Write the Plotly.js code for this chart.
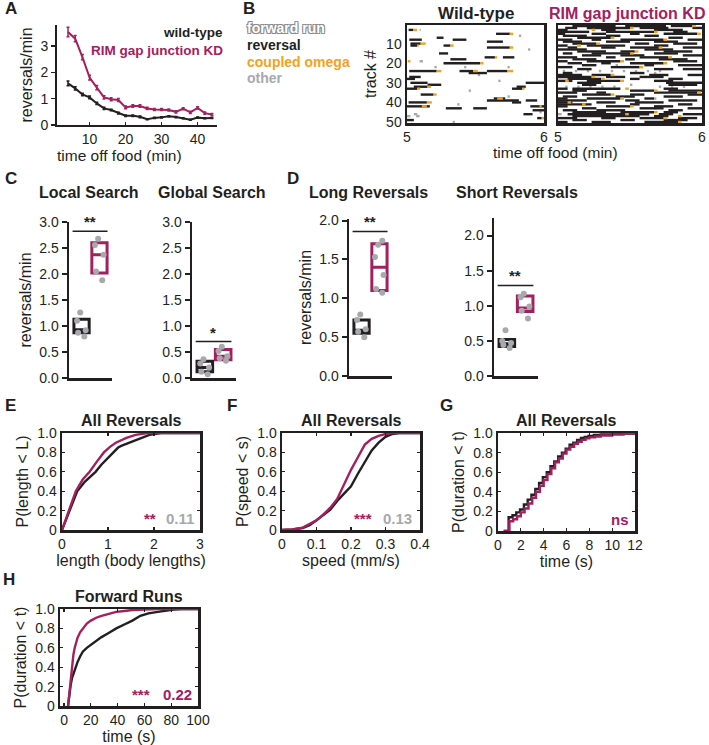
<!DOCTYPE html>
<html lang="en">
<head>
<meta charset="UTF-8">
<script src="https://cdn.plot.ly/plotly-3.0.1.min.js"></script>
<style>
    html, body, #plot {
        width: 709px;
        height: 745px;
        margin: 0;
        padding: 0;
        overflow: hidden;
        background: #fff;
    }
</style>
</head>
<body>
<div id="plot"></div>
<script>
// ---------- data ----------
// A: reversal rate vs time off food
const timeOffFood = [4, 6, 8, 10, 12, 14, 16, 18, 20, 22, 24, 26, 28, 30, 32, 34, 36, 38, 40, 42, 44];
const wtRate = [1.58, 1.39, 1.16, 1.05, 0.82, 0.63, 0.57, 0.45, 0.35, 0.35, 0.31, 0.22, 0.27, 0.29, 0.33, 0.3, 0.26, 0.2, 0.28, 0.26, 0.27];
const wtRateErr = [0.09, 0.06, 0.05, 0.05, 0.04, 0.04, 0.03, 0.03, 0.03, 0.03, 0.03, 0.02, 0.02, 0.02, 0.02, 0.02, 0.02, 0.02, 0.02, 0.02, 0.02];
const kdRate = [3.53, 3.28, 2.58, 1.8, 1.42, 1.05, 0.98, 0.95, 0.67, 0.72, 0.72, 0.63, 0.59, 0.59, 0.57, 0.5, 0.62, 0.48, 0.65, 0.45, 0.4];
const kdRateErr = [0.18, 0.12, 0.1, 0.09, 0.08, 0.06, 0.06, 0.06, 0.05, 0.05, 0.05, 0.04, 0.04, 0.04, 0.04, 0.04, 0.04, 0.04, 0.04, 0.04, 0.04];

// B: ethograms, seconds after 5 min; [track, start, end]
const wtReversal = [[3, 0.7, 2.8], [5, 39, 45], [7, 13, 16], [8, 1, 6.5], [8, 20, 26], [9, 35, 42], [10, 1.5, 6], [11, 1.5, 4.4],
    [11, 16, 19], [12, 35, 45], [15, 14, 18], [17, 34, 38.5], [17, 42, 47], [18, 19, 26], [20, 16, 32], [24, 1, 13], [24, 23, 29],
    [24, 35, 44], [25, 27, 35], [27, 1, 6], [28, 0, 3.5], [30, 1.5, 9], [30, 52, 60], [31, 9, 15], [32, 3, 9], [32, 48, 52],
    [33, 0, 4.4], [33, 46, 50.5], [36, 6, 11.6], [38, 38, 43], [39, 35, 49], [39, 52, 57], [40, 0.7, 8.7], [40, 46, 50],
    [42, 0, 10], [42, 54, 60], [43, 17, 24], [43, 29, 35], [44, 55, 60], [46, 51, 55], [48, 57, 59], [49, 0, 3]];
const wtOmega = [[3, 2.8, 4.4], [5, 45, 46.5], [10, 6, 8.2], [11, 4.4, 5.2], [11, 19, 20.4], [12, 45, 46.5], [17, 38.5, 39.5],
    [19, 0.3, 1.5], [20, 32, 33.5], [24, 13, 15], [24, 29, 31], [24, 44, 46.5], [32, 9, 10.5], [33, 4.4, 5.8], [33, 50.5, 51.5],
    [36, 11.6, 13], [38, 39.5, 42], [40, 8.7, 10.9], [42, 6.5, 8.7], [42, 58, 59], [48, 59, 60]];
const wtOther = [[3, 5.5, 6], [6, 49, 50], [13, 53, 54], [19, 5.5, 7], [22, 12, 13], [22, 25, 26], [22, 44, 45], [26, 31, 32],
    [29, 40, 41], [34, 27, 28], [37, 44, 45], [41, 22, 23], [45, 58, 59], [46, 3, 4.5], [47, 4, 5.5], [47, 0, 1.5], [50, 20, 21]];

const kdReversal = [
    [1, 6, 24], [1, 28, 45], [1, 47, 56], [2, 3, 8], [2, 12, 30], [2, 34, 46], [2, 56, 60], [3, 0, 4], [3, 18, 24], [3, 40, 52],
    [4, 0, 13], [4, 20, 40], [4, 48, 54], [5, 0, 3], [5, 14, 20], [5, 30, 34], [5, 44, 58], [6, 2, 12], [6, 20, 26], [6, 36, 42],
    [7, 8, 22], [7, 46, 52], [8, 0, 6], [8, 14, 18], [8, 26, 44], [8, 54, 60], [9, 2, 10], [9, 20, 30], [9, 40, 50],
    [10, 6, 16], [10, 32, 38], [10, 48, 58], [11, 0, 4], [11, 12, 28], [11, 40, 46], [12, 4, 8], [12, 18, 24], [12, 30, 42],
    [12, 52, 60], [13, 0, 12], [13, 36, 48], [14, 8, 20], [14, 26, 32], [14, 44, 56], [15, 2, 6], [15, 14, 30], [15, 40, 50],
    [16, 10, 18], [16, 26, 36], [16, 52, 60], [17, 0, 8], [17, 20, 24], [17, 34, 46], [18, 6, 16], [18, 28, 32], [18, 42, 54],
    [19, 0, 4], [19, 12, 26], [19, 48, 58], [20, 4, 10], [20, 18, 22], [20, 30, 44], [21, 10, 16], [21, 36, 40], [21, 50, 60],
    [22, 0, 6], [22, 22, 34], [23, 8, 14], [23, 40, 48], [23, 52, 60], [25, 2, 6], [25, 30, 36],
    [26, 0, 10], [26, 14, 22], [26, 38, 46], [26, 54, 60], [27, 0, 14], [27, 20, 28], [27, 34, 44], [28, 4, 18], [28, 30, 34],
    [28, 46, 52], [29, 0, 6], [29, 12, 26], [29, 40, 48], [30, 8, 18], [30, 45, 60], [31, 10, 16], [31, 46, 58],
    [33, 0, 4], [33, 6, 26], [33, 44, 50], [34, 6, 12], [34, 30, 40], [34, 46, 60], [35, 0, 8], [35, 16, 20], [35, 40, 58],
    [36, 10, 22], [36, 30, 36], [36, 54, 60], [37, 2, 8], [37, 24, 32], [37, 44, 52], [38, 0, 4], [38, 12, 26], [38, 36, 40],
    [39, 0, 12], [39, 28, 34], [39, 46, 58], [40, 0, 6], [40, 16, 24], [40, 32, 44], [41, 0, 14], [41, 30, 34], [41, 50, 56],
    [42, 0, 4], [42, 20, 30], [42, 40, 48], [43, 10, 16], [43, 34, 44], [43, 54, 60], [44, 2, 8], [44, 16, 28], [44, 46, 52],
    [45, 6, 20], [45, 26, 40], [45, 44, 50], [46, 4, 38], [46, 42, 48], [46, 52, 60], [47, 6, 34], [47, 40, 46],
    [48, 0, 8], [48, 18, 24], [48, 34, 44], [48, 50, 58], [49, 6, 12], [49, 26, 32], [49, 44, 54], [50, 0, 4], [50, 14, 22], [50, 36, 50]];
const kdOmega = [[1, 56, 57.5], [2, 30, 31.5], [3, 14, 15.5], [4, 40, 41.5], [5, 58, 59.5], [7, 22, 23.5], [8, 44, 45.5],
    [10, 16, 17.5], [11, 8, 9.5], [12, 42, 43.5], [14, 32, 33.5], [15, 30, 31.5], [17, 46, 47.5], [19, 26, 27.5], [20, 44, 45.5],
    [22, 34, 35.5], [26, 22, 23.5], [27, 14, 15.5], [28, 18, 19.5], [29, 3, 4.5], [29, 26, 27.5], [33, 28, 29.5], [34, 40, 41.5],
    [35, 58, 59.5], [36, 22, 23.5], [38, 26, 27.5], [40, 4, 5.5], [41, 10, 11.5], [42, 30, 31.5], [45, 40, 41.5], [46, 28, 29.5],
    [47, 50, 51.5], [48, 44, 45.5], [50, 50, 51.5]];
const kdOther = [[24, 2, 3], [24, 7, 8], [24, 12, 13], [24, 17, 18], [24, 22, 23], [24, 27, 28], [24, 32, 33], [24, 37, 38],
    [24, 42, 43], [32, 3, 4], [32, 8, 9], [32, 13, 14], [32, 18, 19], [32, 23, 24], [32, 42, 43], [32, 47, 48], [32, 52, 53],
    [25, 40, 41], [31, 30, 31], [38, 40, 41], [43, 40, 41], [46, 0, 1.5], [21, 24, 25]];

// C, D: per-plate rates (dots) and box quartiles [q1, median, q3]
const localWT = [0.8, 0.87, 0.92, 1.1, 1.26];
const localKD = [1.88, 2.05, 2.37, 2.56, 2.68];
const localBoxWT = [0.87, 0.93, 1.13];
const localBoxKD = [2.02, 2.37, 2.6];
const globalWT = [0.07, 0.12, 0.2, 0.28, 0.36];
const globalKD = [0.33, 0.38, 0.42, 0.52, 0.6];
const globalBoxWT = [0.12, 0.2, 0.32];
const globalBoxKD = [0.35, 0.42, 0.55];
const longWT = [0.5, 0.57, 0.6, 0.72, 0.79];
const longKD = [1.07, 1.12, 1.3, 1.53, 1.69, 1.74];
const longBoxWT = [0.55, 0.59, 0.72];
const longBoxKD = [1.1, 1.4, 1.7];
const shortWT = [0.4, 0.44, 0.47, 0.5, 0.65];
const shortKD = [0.82, 0.93, 0.99, 1.12, 1.17];
const shortBoxWT = [0.42, 0.46, 0.52];
const shortBoxKD = [0.92, 0.97, 1.14];
const sigLevel = [2.82, 0.7, 1.86, 1.29];
const sigText = ['**', '*', '**', '**'];

// E: reversal length CDF
const lenWTx = [0, 0.05, 0.15, 0.33, 0.5, 0.62, 0.73, 0.85, 0.95, 1.13, 1.22, 1.3, 1.46, 1.6, 1.7, 1.9, 2.15, 3];
const lenWTy = [0, 0.06, 0.19, 0.4, 0.5, 0.55, 0.6, 0.67, 0.72, 0.8, 0.85, 0.87, 0.9, 0.93, 0.95, 0.98, 1, 1];
const lenKDx = [0, 0.05, 0.15, 0.3, 0.45, 0.6, 0.75, 0.91, 1.05, 1.17, 1.4, 1.6, 1.86, 3];
const lenKDy = [0, 0.07, 0.2, 0.4, 0.52, 0.6, 0.7, 0.8, 0.86, 0.9, 0.95, 0.98, 1, 1];
// F: reversal speed CDF
const spdWTx = [0, 0.03, 0.06, 0.08, 0.1, 0.12, 0.14, 0.16, 0.18, 0.2, 0.22, 0.24, 0.26, 0.28, 0.3, 0.32, 0.34, 0.4];
const spdWTy = [0, 0.005, 0.02, 0.05, 0.1, 0.16, 0.21, 0.3, 0.37, 0.45, 0.58, 0.7, 0.82, 0.9, 0.96, 0.99, 1, 1];
const spdKDx = [0, 0.03, 0.06, 0.08, 0.1, 0.12, 0.14, 0.16, 0.18, 0.2, 0.22, 0.24, 0.26, 0.28, 0.3, 0.32, 0.4];
const spdKDy = [0, 0.005, 0.025, 0.06, 0.1, 0.16, 0.23, 0.32, 0.47, 0.62, 0.75, 0.88, 0.94, 0.97, 0.99, 1, 1];
// G: reversal duration CDF (stairs)
const durWTx = [0.5, 0.93, 1.27, 1.6, 1.93, 2.27, 2.6, 2.93, 3.27, 3.6, 3.93, 4.27, 4.6, 4.93, 5.27, 5.6, 5.93, 6.27, 6.6, 6.93, 7.27, 7.6, 7.93, 8.4, 9, 10, 12];
const durWTy = [0, 0.14, 0.16, 0.19, 0.22, 0.27, 0.32, 0.37, 0.43, 0.49, 0.55, 0.6, 0.66, 0.71, 0.76, 0.8, 0.84, 0.88, 0.9, 0.93, 0.95, 0.96, 0.97, 0.98, 0.985, 0.995, 1];
const durKDx = [0.5, 1.0, 1.33, 1.67, 2.0, 2.33, 2.67, 3.0, 3.33, 3.67, 4.0, 4.33, 4.67, 5.0, 5.33, 5.67, 6.0, 6.33, 6.67, 7.0, 7.33, 7.67, 8.0, 8.5, 9, 10, 11, 12];
const durKDy = [0, 0.1, 0.12, 0.15, 0.19, 0.23, 0.28, 0.34, 0.4, 0.46, 0.52, 0.58, 0.64, 0.7, 0.74, 0.79, 0.83, 0.86, 0.89, 0.91, 0.93, 0.945, 0.955, 0.965, 0.975, 0.985, 0.995, 1];
// H: forward run duration CDF
const runWTx = [3, 4, 5, 6, 8, 10, 12, 14, 17, 20, 24, 28, 33, 39, 45, 51, 57, 63, 70, 76, 82, 88, 100];
const runWTy = [0, 0.12, 0.22, 0.29, 0.38, 0.45, 0.51, 0.56, 0.6, 0.63, 0.67, 0.71, 0.75, 0.8, 0.84, 0.88, 0.93, 0.955, 0.97, 0.985, 0.995, 1, 1];
const runKDx = [3, 4, 5, 6, 7, 8, 10, 12, 14, 17, 20, 24, 28, 33, 39, 45, 51, 60, 70, 100];
const runKDy = [0, 0.15, 0.3, 0.43, 0.53, 0.6, 0.7, 0.76, 0.8, 0.85, 0.88, 0.91, 0.93, 0.95, 0.97, 0.98, 0.99, 0.995, 1, 1];

// ---------- styling ----------
const BLK = '#231f20';
const MAG = '#a3205f';
const ORG = '#f4a21c';
const GRY = '#a7a9ac';
const FONT = 'Liberation Sans, Arial, Helvetica, sans-serif';
const W = 709, H = 745;

// pixel -> paper helpers
const px = v => v / W;
const py = v => 1 - v / H;
const domX = (a, b) => [a / W, b / W];
const domY = (top, bottom) => [1 - bottom / H, 1 - top / H];

function font(size, color, bold) {
    return {family: FONT, size: size, color: color || BLK, weight: bold ? 'bold' : 'normal'};
}

function segXY(segs) {
    const x = [], y = [];
    segs.forEach(s => {
        x.push(s[1], s[2], null);
        y.push(s[0], s[0], null);
    });
    return {x: x, y: y};
}

function raster(segs, color, xa, ya) {
    const xy = segXY(segs);
    return {x: xy.x, y: xy.y, mode: 'lines', line: {color: color, width: 2.4}, xaxis: xa, yaxis: ya, hoverinfo: 'skip'};
}

function boxTrace(pos, q, color, xa, ya) {
    return {
        type: 'box', x: [pos], q1: [q[0]], median: [q[1]], q3: [q[2]], lowerfence: [q[0]], upperfence: [q[2]],
        width: 0.85, whiskerwidth: 0, fillcolor: 'rgba(0,0,0,0)', line: {color: color, width: 3},
        xaxis: xa, yaxis: ya, hoverinfo: 'skip'
    };
}

function dotTrace(pos, vals, xa, ya) {
    return {
        type: 'box', x: vals.map(() => pos), y: vals, boxpoints: 'all', jitter: 0.7, pointpos: 0,
        width: 0.85, fillcolor: 'rgba(0,0,0,0)', line: {color: 'rgba(0,0,0,0)', width: 0},
        marker: {color: GRY, size: 6}, xaxis: xa, yaxis: ya, hoverinfo: 'skip'
    };
}

function cdf(x, y, color, xa, ya, shape) {
    return {x: x, y: y, mode: 'lines', line: {color: color, width: 2.4, shape: shape || 'linear'}, xaxis: xa, yaxis: ya, hoverinfo: 'skip'};
}

const data = [
    // A
    {x: timeOffFood, y: wtRate, mode: 'lines', line: {color: BLK, width: 2},
        error_y: {type: 'data', array: wtRateErr, color: BLK, thickness: 1.5, width: 1.5}, xaxis: 'x', yaxis: 'y'},
    {x: timeOffFood, y: kdRate, mode: 'lines', line: {color: MAG, width: 2},
        error_y: {type: 'data', array: kdRateErr, color: MAG, thickness: 1.5, width: 1.5}, xaxis: 'x', yaxis: 'y'},
    // B
    raster(wtOther, GRY, 'x2', 'y2'),
    raster(wtReversal, BLK, 'x2', 'y2'),
    raster(wtOmega, ORG, 'x2', 'y2'),
    raster(kdOther, GRY, 'x3', 'y3'),
    raster(kdReversal, BLK, 'x3', 'y3'),
    raster(kdOmega, ORG, 'x3', 'y3'),
    // C
    boxTrace(1, localBoxWT, BLK, 'x4', 'y4'), boxTrace(2, localBoxKD, MAG, 'x4', 'y4'),
    dotTrace(1, localWT, 'x4', 'y4'), dotTrace(2, localKD, 'x4', 'y4'),
    boxTrace(1, globalBoxWT, BLK, 'x5', 'y5'), boxTrace(2, globalBoxKD, MAG, 'x5', 'y5'),
    dotTrace(1, globalWT, 'x5', 'y5'), dotTrace(2, globalKD, 'x5', 'y5'),
    // D
    boxTrace(1, longBoxWT, BLK, 'x6', 'y6'), boxTrace(2, longBoxKD, MAG, 'x6', 'y6'),
    dotTrace(1, longWT, 'x6', 'y6'), dotTrace(2, longKD, 'x6', 'y6'),
    boxTrace(1, shortBoxWT, BLK, 'x7', 'y7'), boxTrace(2, shortBoxKD, MAG, 'x7', 'y7'),
    dotTrace(1, shortWT, 'x7', 'y7'), dotTrace(2, shortKD, 'x7', 'y7'),
    // E-H
    cdf(lenWTx, lenWTy, BLK, 'x8', 'y8'), cdf(lenKDx, lenKDy, MAG, 'x8', 'y8'),
    cdf(spdWTx, spdWTy, BLK, 'x9', 'y9'), cdf(spdKDx, spdKDy, MAG, 'x9', 'y9'),
    cdf(durWTx, durWTy, BLK, 'x10', 'y10', 'hv'), cdf(durKDx, durKDy, MAG, 'x10', 'y10', 'hv'),
    cdf(runWTx, runWTy, BLK, 'x11', 'y11'), cdf(runKDx, runKDy, MAG, 'x11', 'y11')
];

// significance bars
const sigAxes = [['x4', 'y4'], ['x5', 'y5'], ['x6', 'y6'], ['x7', 'y7']];
sigAxes.forEach((ax, i) => {
    data.push({x: [0.5, 2.45], y: [sigLevel[i], sigLevel[i]], mode: 'lines', line: {color: BLK, width: 1.5},
        xaxis: ax[0], yaxis: ax[1], hoverinfo: 'skip'});
});

// ---------- axes ----------
const tickFont = font(14);

function spineAxis(extra) {
    return Object.assign({
        showline: true, linecolor: BLK, linewidth: 2.5, showgrid: false, zeroline: false,
        ticks: 'outside', ticklen: 5, tickwidth: 2, tickcolor: BLK, tickfont: tickFont
    }, extra);
}

function frameAxis(extra) {
    return Object.assign({
        showline: true, mirror: 'allticks', linecolor: BLK, linewidth: 2.5, showgrid: false, zeroline: false,
        ticks: 'inside', ticklen: 3, tickwidth: 1.2, tickcolor: BLK, tickfont: tickFont
    }, extra);
}

function axTitle(text, standoff) {
    return {text: text, font: font(16), standoff: standoff};
}

const cdfY = {range: [0, 1], tickvals: [0, 0.2, 0.4, 0.6, 0.8, 1], ticktext: ['0', '0.2', '0.4', '0.6', '0.8', '1.0']};

const layout = {
    width: W, height: H,
    margin: {l: 0, r: 0, t: 0, b: 0},
    paper_bgcolor: '#fff', plot_bgcolor: 'rgba(0,0,0,0)',
    showlegend: false,
    font: {family: FONT, color: BLK},
    boxmode: 'overlay',

    // A
    xaxis: spineAxis({domain: domX(57, 217), range: [0.94, 45.4], tickvals: [10, 20, 30, 40], anchor: 'y',
        ticks: 'inside', ticklen: 3, tickwidth: 1.5, linewidth: 2}),
    yaxis: spineAxis({domain: domY(25, 125), range: [0, 3.8], tickvals: [0, 1, 2, 3], anchor: 'x', ticklen: 4, tickwidth: 1.5, linewidth: 2,
        title: axTitle('reversals/min', 4)}),

    // B
    xaxis2: frameAxis({domain: domX(407, 544), range: [0, 60], tickvals: [0, 60], ticktext: ['5', '6'], ticks: '', anchor: 'y2'}),
    yaxis2: frameAxis({domain: domY(25, 123), range: [50.5, 0.5], tickvals: [10, 20, 30, 40, 50], ticks: '', anchor: 'x2',
        title: axTitle('track #', 6)}),
    xaxis3: frameAxis({domain: domX(558, 702), range: [0, 60], tickvals: [0, 60], ticktext: ['5', '6'], ticks: '', anchor: 'y3'}),
    yaxis3: frameAxis({domain: domY(25, 123), range: [50.5, 0.5], showticklabels: false, ticks: '', anchor: 'x3'}),

    // C
    xaxis4: spineAxis({domain: domX(69, 112), range: [0.3, 2.7], ticks: '', showticklabels: false, anchor: 'y4'}),
    yaxis4: spineAxis({domain: domY(222, 378), range: [0, 3], dtick: 0.5, tickformat: '.1f', anchor: 'x4',
        title: axTitle('reversals/min', 4)}),
    xaxis5: spineAxis({domain: domX(192, 236), range: [0.3, 2.7], ticks: '', showticklabels: false, anchor: 'y5'}),
    yaxis5: spineAxis({domain: domY(222, 378), range: [0, 3], dtick: 0.5, tickformat: '.1f', anchor: 'x5'}),

    // D
    xaxis6: spineAxis({domain: domX(349, 392), range: [0.3, 2.7], ticks: '', showticklabels: false, anchor: 'y6'}),
    yaxis6: spineAxis({domain: domY(219, 376), range: [0, 2.02], dtick: 0.5, tickformat: '.1f', anchor: 'x6',
        title: axTitle('reversals/min', 4)}),
    xaxis7: spineAxis({domain: domX(494, 538), range: [0.3, 2.7], ticks: '', showticklabels: false, anchor: 'y7'}),
    yaxis7: spineAxis({domain: domY(218, 376), range: [0, 2.25], tickvals: [0, 0.5, 1, 1.5, 2], tickformat: '.1f', anchor: 'x7'}),

    // E-H
    xaxis8: frameAxis({domain: domX(62, 200), range: [0, 3], dtick: 1, anchor: 'y8', title: axTitle('length (body lengths)', 2)}),
    yaxis8: frameAxis(Object.assign({domain: domY(433, 530), anchor: 'x8', title: axTitle('P(length < L)', 5)}, cdfY)),
    xaxis9: frameAxis({domain: domX(282, 420), range: [0, 0.4], dtick: 0.1, anchor: 'y9', title: axTitle('speed (mm/s)', 2)}),
    yaxis9: frameAxis(Object.assign({domain: domY(433, 530), anchor: 'x9', title: axTitle('P(speed < s)', 5)}, cdfY)),
    xaxis10: frameAxis({domain: domX(498, 635), range: [0, 12], dtick: 2, anchor: 'y10', title: axTitle('time (s)', 2)}),
    yaxis10: frameAxis(Object.assign({domain: domY(433, 531), anchor: 'x10', title: axTitle('P(duration < t)', 5)}, cdfY)),
    xaxis11: frameAxis({domain: domX(60, 198), range: [-3, 100], dtick: 20, anchor: 'y11', title: axTitle('time (s)', 2)}),
    yaxis11: frameAxis(Object.assign({domain: domY(609, 706), anchor: 'x11', title: axTitle('P(duration < t)', 5)}, cdfY)),

    annotations: []
};

const ann = layout.annotations;
function text(t, x, y, f, xanchor, extra) {
    ann.push(Object.assign({text: t, x: px(x), y: py(y), xref: 'paper', yref: 'paper', showarrow: false,
        xanchor: xanchor || 'center', yanchor: 'middle', font: f}, extra || {}));
}

// panel letters
[['A', 3, 8], ['B', 241, 8], ['C', 3, 178], ['D', 285, 178], ['E', 3, 405], ['F', 225, 405], ['G', 438, 405], ['H', 1, 579]]
    .forEach(l => text(l[0], l[1], l[2], font(17, BLK, true), 'left'));

// A legend + axis title
text('wild-type', 225, 33, font(13.5, BLK, true), 'right');
text('RIM gap junction KD', 225, 50, font(13.5, MAG, true), 'right');
text('time off food (min)', 120, 155, font(15.5));

// B legend, titles
text('forward run', 245, 28, Object.assign(font(14, '#ffffff', true),
    {shadow: '-1px -1px 0 #8a8a8a, 1px -1px 0 #8a8a8a, -1px 1px 0 #8a8a8a, 1px 1px 0 #8a8a8a'}), 'left');
text('reversal', 245, 45, font(14, BLK, true), 'left');
text('coupled omega', 245, 62, font(14, ORG, true), 'left');
text('other', 245, 78, font(14, GRY, true), 'left');
text('Wild-type', 476, 13, font(17, BLK, true));
text('RIM gap junction KD', 627, 13, font(16, MAG, true));
text('time off food (min)', 555, 153, font(15.5));

// C, D titles
text('Local Search', 89, 192, font(16, BLK, true));
text('Global Search', 212, 192, font(16, BLK, true));
text('Long Reversals', 368, 192, font(16, BLK, true));
text('Short Reversals', 517, 192, font(16, BLK, true));

// significance stars
sigAxes.forEach((ax, i) => {
    ann.push({text: sigText[i], x: 1.47, y: sigLevel[i], xref: ax[0], yref: ax[1], showarrow: false,
        xanchor: 'center', yanchor: 'bottom', yshift: -1, font: font(15, BLK, true)});
});

// E-H titles and statistics
const cdfTitles = [['All Reversals', 'x8', 'y8'], ['All Reversals', 'x9', 'y9'], ['All Reversals', 'x10', 'y10'], ['Forward Runs', 'x11', 'y11']];
cdfTitles.forEach(t => {
    ann.push({text: t[0], x: 0.5, y: 1, xref: t[1] + ' domain', yref: t[2] + ' domain', showarrow: false,
        xanchor: 'center', yanchor: 'bottom', yshift: 2, font: font(16, BLK, true)});
});
const stats = [['**', MAG, 0.64, 'x8', 'y8'], ['0.11', GRY, 0.855, 'x8', 'y8'],
    ['***', MAG, 0.59, 'x9', 'y9'], ['0.13', GRY, 0.84, 'x9', 'y9'],
    ['ns', MAG, 0.89, 'x10', 'y10'],
    ['***', MAG, 0.59, 'x11', 'y11'], ['0.22', MAG, 0.85, 'x11', 'y11']];
stats.forEach(s => {
    ann.push({text: s[0], x: s[2], y: 0.12, xref: s[3] + ' domain', yref: s[4] + ' domain', showarrow: false,
        xanchor: 'center', yanchor: 'middle', font: font(15, s[1], true)});
});

Plotly.newPlot('plot', data, layout, {displayModeBar: false, staticPlot: true});
</script>
</body>
</html>
